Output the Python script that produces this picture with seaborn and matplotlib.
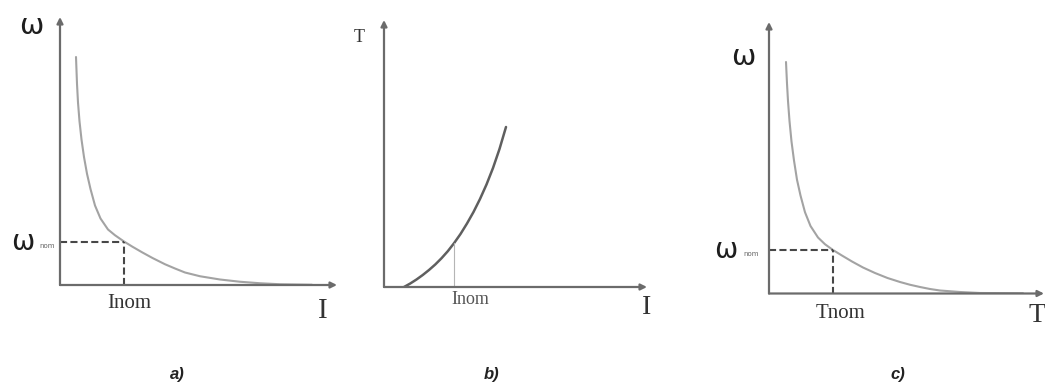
import matplotlib
matplotlib.use("Agg")
import matplotlib.pyplot as plt
import seaborn as sns

# ---- data (axis units: 1 unit = 25 px) ----
# a) speed vs current
a_current = [0.64, 0.68, 0.72, 0.78, 0.86, 0.96, 1.08, 1.22, 1.40, 1.62, 1.92,
             2.20, 2.56, 2.90, 3.28, 3.70, 4.20, 4.60, 5.00, 5.60, 6.40, 7.20,
             8.00, 8.80, 10.08]
a_speed = [9.12, 8.05, 7.30, 6.55, 5.82, 5.12, 4.45, 3.84, 3.18, 2.66, 2.22,
           1.99, 1.74, 1.53, 1.31, 1.08, 0.83, 0.66, 0.50, 0.35, 0.22, 0.13,
           0.07, 0.03, 0.01]
a_I_nom, a_w_nom = 2.56, 1.74

# b) torque vs current
b_current = [0.80, 1.05, 1.30, 1.55, 1.80, 2.05, 2.30, 2.55, 2.80, 3.06, 3.32,
             3.58, 3.84, 4.10, 4.36, 4.62, 4.88]
b_torque = [0.00, 0.14, 0.30, 0.48, 0.68, 0.90, 1.15, 1.43, 1.75, 2.12, 2.54,
            3.00, 3.52, 4.10, 4.76, 5.52, 6.40]
b_I_nom, b_T_nom = 2.80, 1.75

# c) speed vs torque
c_torque = [0.68, 0.72, 0.76, 0.82, 0.90, 1.00, 1.12, 1.26, 1.44, 1.66, 1.96,
            2.24, 2.56, 2.90, 3.32, 3.76, 4.24, 4.74, 5.24, 5.64, 6.04, 6.44,
            6.84, 7.64, 8.44, 10.16]
c_speed = [9.26, 8.40, 7.70, 6.90, 6.08, 5.32, 4.55, 3.92, 3.25, 2.70, 2.24,
           1.97, 1.74, 1.53, 1.28, 1.04, 0.82, 0.62, 0.46, 0.35, 0.26, 0.18,
           0.12, 0.06, 0.02, 0.01]
c_T_nom, c_w_nom = 2.56, 1.74

panel_letters = ["a)", "b)", "c)"]

# ---- style ----
sns.set_theme(style="white")
plt.rcParams["font.family"] = ["DejaVu Sans"]
plt.rcParams["lines.solid_joinstyle"] = "round"
plt.rcParams["lines.solid_capstyle"] = "round"

W, H = 1045, 389
fig = plt.figure(figsize=(W / 100, H / 100), dpi=100)

AXIS_C = "#6b6b6b"
DASH_C = "#474747"
SERIF = "Liberation Serif"
UNIT = 25.0
DASH = (0, (3.4, 1.6))


def make_axes(left, right, top, bottom):
    """Axes whose lower-left corner is the diagram origin (pixel box)."""
    ax = fig.add_axes([left / W, (H - bottom) / H, (right - left) / W, (bottom - top) / H])
    xmax, ymax = (right - left) / UNIT, (bottom - top) / UNIT
    ax.set_xlim(0, xmax)
    ax.set_ylim(0, ymax)
    ax.set_axis_off()
    arrow = dict(arrowstyle="-|>", color=AXIS_C, lw=1.6, mutation_scale=9,
                 shrinkA=0, shrinkB=0)
    ax.annotate("", xy=(xmax, 0), xytext=(0, 0), arrowprops=arrow, annotation_clip=False)
    ax.annotate("", xy=(0, ymax), xytext=(0, 0), arrowprops=arrow, annotation_clip=False)
    return ax


def omega_nom(ax, x, y):
    ax.text(x, y, "ω", fontsize=20, ha="center", va="center", color="#1e1e1e", clip_on=False)
    ax.text(x + 1.0, y - 0.16, "nom", fontsize=5, ha="center", va="center",
            color="#666666", clip_on=False)


# a) ------------------------------------------------------------
ax_a = make_axes(60, 337, 17, 285)
sns.lineplot(x=a_current, y=a_speed, ax=ax_a, color="#a3a3a3", linewidth=1.5,
             sort=False, estimator=None)
ax_a.plot([0, a_I_nom], [a_w_nom, a_w_nom], color=DASH_C, lw=1.5, ls=DASH)
ax_a.plot([a_I_nom, a_I_nom], [0, a_w_nom], color=DASH_C, lw=1.5, ls=DASH)
ax_a.text(-1.16, 10.35, "ω", fontsize=21, ha="center", va="center", color="#1e1e1e")
omega_nom(ax_a, -1.5, 1.74)
ax_a.text(2.76, -0.72, "Inom", family=SERIF, fontsize=15, ha="center", va="center",
          color="#333333")
ax_a.text(10.52, -1.04, "I", family=SERIF, fontsize=21, ha="center", va="center",
          color="#333333")

# b) ------------------------------------------------------------
ax_b = make_axes(384, 647, 20, 287)
sns.lineplot(x=b_current, y=b_torque, ax=ax_b, color="#5f5f5f", linewidth=1.8,
             sort=False, estimator=None)
ax_b.plot([b_I_nom, b_I_nom], [0, b_T_nom], color="#b5b5b5", lw=0.8)
ax_b.text(-1.0, 9.96, "T", family=SERIF, fontsize=13, ha="center", va="center",
          color="#333333")
ax_b.text(3.44, -0.52, "Inom", family=SERIF, fontsize=13, ha="center", va="center",
          color="#555555")
ax_b.text(10.52, -0.84, "I", family=SERIF, fontsize=20, ha="center", va="center",
          color="#333333")

# c) ------------------------------------------------------------
ax_c = make_axes(769, 1044, 22, 293.5)
sns.lineplot(x=c_torque, y=c_speed, ax=ax_c, color="#a3a3a3", linewidth=1.5,
             sort=False, estimator=None)
ax_c.plot([0, c_T_nom], [c_w_nom, c_w_nom], color=DASH_C, lw=1.5, ls=DASH)
ax_c.plot([c_T_nom, c_T_nom], [0, c_w_nom], color=DASH_C, lw=1.5, ls=DASH)
ax_c.text(-1.04, 9.46, "ω", fontsize=21, ha="center", va="center", color="#1e1e1e")
omega_nom(ax_c, -1.72, 1.72)
ax_c.text(2.88, -0.78, "Tnom", family=SERIF, fontsize=15, ha="center", va="center",
          color="#333333")
ax_c.text(10.72, -0.9, "T", family=SERIF, fontsize=20, ha="center", va="center",
          color="#333333", clip_on=False)

# panel captions
for letter, px in zip(panel_letters, [177, 492, 898]):
    fig.text(px / W, 1 - 375 / H, letter, fontsize=12, style="italic", weight="bold",
             ha="center", va="center", color="#222222", family="Liberation Sans")

fig.savefig("out.png", dpi=100, facecolor="white")
